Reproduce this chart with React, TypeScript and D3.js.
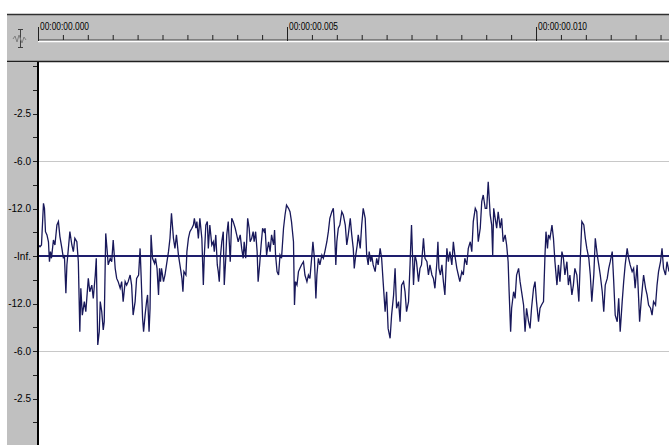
import React from "react";
import * as d3 from "d3";

// ---- data (time in ms, amplitude -1..1) ----
const waveA: [number, number][] = [
  [0, 0.06],[0.04,0.049],[0.07,0.058],[0.11,0.277],[0.13,0.251],[0.15,0.128],[0.18,0.111],[0.21,0.075],[0.23,-0.030],[0.25,0.023],[0.27,-0.012],[0.31,0.084],[0.34,0.058],[0.38,0.163],[0.41,0.181],[0.44,0.102],[0.48,0.040],[0.51,-0.012],[0.53,0.005],[0.56,-0.196],[0.58,-0.047],[0.61,0.040],[0.64,0.128],[0.68,0.058],[0.71,0.023],[0.74,0.093],[0.78,0.075],[0.81,-0.030],[0.84,-0.398],[0.86,-0.170],[0.89,-0.311],[0.93,-0.240],[0.96,-0.293],[0.98,-0.223],[1.01,-0.118],[1.04,-0.188],[1.08,-0.153],[1.11,-0.223],[1.15,-0.100],[1.17,-0.012],[1.19,-0.311],[1.20,-0.468],[1.23,-0.398],[1.25,-0.240],[1.28,-0.293],[1.31,-0.389],[1.33,-0.346],[1.36,0.119],[1.39,0.023],[1.41,-0.047],[1.45,-0.012],[1.48,-0.030],[1.51,0.084],[1.55,-0.065],[1.58,-0.118],[1.61,-0.135],[1.65,-0.170],[1.68,-0.135],[1.71,-0.240],[1.75,-0.135],
];
const waveB: [number, number][] = [
  [1.78,-0.153],[1.81,-0.135],[1.85,-0.100],[1.88,-0.153],[1.91,-0.311],[1.95,-0.240],[1.98,-0.118],[2.02,-0.100],[2.05,0.040],[2.07,-0.100],[2.10,-0.328],[2.12,-0.398],[2.15,-0.311],[2.18,-0.240],[2.20,-0.205],[2.23,-0.398],[2.25,-0.275],[2.27,0.111],[2.30,-0.012],[2.34,-0.039],[2.36,-0.012],[2.39,-0.065],[2.42,-0.205],[2.44,-0.065],[2.46,-0.135],[2.48,-0.065],[2.52,-0.135],[2.55,-0.100],[2.58,-0.047],[2.62,0.023],[2.65,0.093],[2.68,0.225],[2.72,0.093],[2.75,0.040],[2.78,0.111],[2.82,0.005],[2.85,-0.047],[2.89,-0.118],[2.91,-0.188],[2.93,-0.082],[2.97,-0.100],[2.99,0.023],[3.02,0.093],[3.05,0.128],[3.09,0.146],[3.12,0.163],[3.14,0.198],[3.17,0.146],[3.19,0.181],[3.22,0.093],[3.25,0.198],[3.29,0.093],[3.32,-0.153],[3.34,0.005],[3.37,0.163],[3.40,0.181],[3.42,0.040],[3.45,0.163],[3.49,0.058],[3.52,0.075],[3.54,0.023],[3.57,0.111],
];
const waveC: [number, number][] = [
  [3.60,-0.047],[3.62,-0.082],[3.64,-0.135],[3.66,-0.012],[3.69,0.075],[3.72,0.128],[3.74,-0.153],[3.77,-0.012],[3.79,0.111],[3.82,0.181],[3.84,0.075],[3.86,-0.030],[3.89,0.198],[3.92,0.181],[3.96,0.146],[3.99,0.111],[4.02,0.075],[4.06,0.111],[4.09,0.040],[4.12,-0.012],[4.14,0.075],[4.17,-0.012],[4.19,0.075],[4.21,0.198],[4.24,0.146],[4.26,0.075],[4.29,0.093],[4.32,0.128],[4.34,0.075],[4.37,0.128],[4.40,0.023],[4.42,-0.135],[4.45,-0.047],[4.48,0.058],[4.51,0.146],[4.54,0.128],[4.56,0.146],[4.59,0.005],[4.63,0.075],[4.66,0.023],[4.69,0.111],[4.73,0.058],[4.75,0.137],[4.77,0.005],[4.80,-0.082],[4.83,-0.100],[4.86,0.005],[4.89,-0.012],[4.93,0.146],[4.96,0.216],[4.99,0.268],[5.03,0.251],[5.06,0.233],[5.09,0.181],[5.13,0.075],[5.15,-0.258],[5.17,-0.135],[5.20,-0.153],[5.23,-0.082],[5.26,-0.065],[5.29,-0.047],[5.33,-0.030],[5.36,-0.100],
];
const waveD: [number, number][] = [
  [5.40,-0.135],[5.43,-0.100],[5.46,-0.118],[5.50,0.005],[5.52,0.075],[5.55,-0.012],[5.58,-0.223],[5.60,-0.100],[5.63,-0.012],[5.66,-0.047],[5.70,0.005],[5.73,-0.012],[5.76,0.023],[5.80,0.075],[5.83,0.128],[5.86,0.198],[5.90,0.233],[5.93,0.251],[5.95,0.163],[5.98,-0.047],[6.00,0.075],[6.03,0.146],[6.06,0.163],[6.10,0.233],[6.13,0.216],[6.17,0.163],[6.20,0.058],[6.23,0.111],[6.27,0.198],[6.30,0.111],[6.33,0.040],[6.35,-0.065],[6.38,0.005],[6.41,0.058],[6.43,0.111],[6.47,0.040],[6.50,0.163],[6.53,0.251],[6.57,0.198],[6.60,0.005],[6.63,-0.047],[6.65,0.023],[6.68,-0.030],[6.70,0.005],[6.73,-0.047],[6.77,-0.082],[6.80,-0.012],[6.83,-0.047],[6.87,0.040],[6.90,-0.012],[6.93,-0.135],[6.97,-0.293],[7.00,-0.188],[7.03,-0.381],[7.07,-0.433],[7.10,-0.311],[7.14,-0.205],[7.17,-0.065],
];
const waveE: [number, number][] = [
  [7.20,-0.275],[7.24,-0.240],[7.27,-0.346],[7.30,-0.153],[7.34,-0.135],[7.37,-0.188],[7.40,-0.293],[7.44,-0.240],[7.47,-0.047],[7.50,0.163],[7.54,-0.153],[7.57,0.005],[7.60,-0.030],[7.64,-0.135],[7.67,-0.065],[7.70,-0.047],[7.74,0.093],[7.77,-0.012],[7.81,-0.030],[7.84,-0.100],[7.87,-0.047],[7.91,-0.100],[7.94,-0.118],[7.97,-0.170],[8.01,-0.030],[8.03,0.075],[8.05,-0.065],[8.08,-0.100],[8.11,-0.047],[8.14,-0.135],[8.17,-0.205],[8.21,0.040],[8.24,-0.030],[8.27,0.023],[8.31,-0.047],[8.34,0.075],[8.37,0.005],[8.41,-0.065],[8.44,-0.100],[8.47,-0.135],[8.51,-0.082],[8.54,-0.100],[8.57,-0.012],[8.61,-0.047],[8.64,0.040],[8.68,0.075],[8.71,0.023],[8.74,0.181],[8.78,0.251],[8.81,0.233],[8.84,0.075],[8.88,0.146],[8.91,0.286],[8.94,0.321],[8.98,0.251],
];
const waveF: [number, number][] = [
  [9.01,0.251],[9.04,0.391],[9.08,0.216],[9.11,0.163],[9.13,0.005],[9.15,0.251],[9.18,0.198],[9.21,0.146],[9.24,0.233],[9.28,0.146],[9.31,0.198],[9.34,0.075],[9.38,0.111],[9.41,0.058],[9.44,-0.030],[9.46,-0.188],[9.49,-0.398],[9.51,-0.275],[9.55,-0.188],[9.58,-0.223],[9.61,-0.100],[9.65,-0.065],[9.68,-0.135],[9.71,-0.188],[9.75,-0.258],[9.78,-0.398],[9.81,-0.275],[9.85,-0.346],[9.88,-0.381],[9.91,-0.275],[9.95,-0.170],[9.98,-0.135],[10.01,-0.240],[10.05,-0.346],[10.08,-0.275],[10.11,-0.258],[10.15,-0.240],[10.18,0.005],[10.20,0.128],[10.23,0.040],[10.25,0.111],[10.28,0.093],[10.32,0.163],[10.35,0.093],[10.38,-0.030],[10.42,-0.153],[10.45,-0.047],[10.48,-0.135],[10.52,0.023],[10.55,-0.012],[10.58,-0.100],[10.62,-0.030],[10.65,-0.153],[10.68,-0.100],[10.72,-0.205],[10.75,-0.153],[10.78,-0.065],
];
const waveG: [number, number][] = [
  [10.82,-0.100],[10.86,-0.240],[10.89,-0.012],[10.92,0.181],[10.96,0.163],[10.99,0.093],[11.02,0.040],[11.06,-0.012],[11.09,-0.100],[11.12,-0.240],[11.16,-0.100],[11.19,0.093],[11.23,0.005],[11.26,-0.047],[11.29,-0.100],[11.33,-0.188],[11.36,-0.293],[11.39,-0.153],[11.43,-0.118],[11.46,-0.065],[11.49,-0.030],[11.53,0.023],[11.56,-0.135],[11.59,-0.311],[11.63,-0.346],[11.66,-0.223],[11.69,-0.398],[11.73,-0.240],[11.76,-0.135],[11.79,-0.047],[11.83,0.040],[11.86,-0.012],[11.89,-0.047],[11.93,-0.082],[11.96,-0.065],[11.99,-0.170],[12.03,-0.047],[12.06,-0.223],[12.08,-0.346],[12.11,-0.240],[12.14,-0.153],[12.16,-0.100],[12.20,-0.170],[12.23,-0.205],[12.26,-0.258],[12.30,-0.275],[12.33,-0.311],[12.36,-0.240],[12.40,-0.258],[12.43,-0.153],[12.46,-0.082],[12.50,-0.030],[12.53,0.040],[12.56,-0.065],[12.60,-0.100],[12.63,-0.030],[12.67,-0.082],
];

const timeTicksMajor = [0, 5, 10];
const timeLabels = ["00:00:00.000", "00:00:00.005", "00:00:00.010"];
const ampLabelValues = [0.75, 0.5, 0.25, 0, -0.25, -0.5, -0.75];
const ampLabels = ["-2.5", "-6.0", "-12.0", "-Inf.", "-12.0", "-6.0", "-2.5"];
const gridValues = [0.5, -0.5];

const W = 669;
const H = 445;
const FONT = "'Liberation Sans Narrow', 'Liberation Sans', Arial, sans-serif";
const GRAY = "#c0c0c0";
const NAVY = "#1e1e6e";

export default function App() {
  const samples = [...waveA, ...waveB, ...waveC, ...waveD, ...waveE, ...waveF, ...waveG];
  const plotLeft = 38;
  const plotTop = 62;
  const x = d3.scaleLinear().domain([0, 12.67]).range([plotLeft, W]);
  const y = d3.scaleLinear().domain([-1, 1]).range([446, 66]);
  const line = d3
    .line<[number, number]>()
    .x((d) => x(d[0]))
    .y((d) => y(d[1]));
  const minorTicks = d3.range(0, 12.7, 0.5);
  const ampTicks = d3.range(-1, 1.001, 0.125).filter((v) => y(v) > plotTop + 2 && y(v) < H);

  return (
    <div style={{ position: "absolute", left: 0, top: 0 }}>
      <svg width={W} height={H} style={{ display: "block", background: "#fff" }}>
        {/* ruler */}
        <rect x={7} y={14} width={W - 7} height={48} fill={GRAY} />
        <line x1={7} x2={W} y1={14.5} y2={14.5} stroke="#303030" strokeWidth={1.5} />
        <line x1={plotLeft} x2={W} y1={40} y2={40} stroke="#404040" strokeWidth={1} />
        <line x1={plotLeft} x2={W} y1={41.5} y2={41.5} stroke="#ffffff" strokeWidth={1.5} />
        <line x1={7} x2={W} y1={61.5} y2={61.5} stroke="#202020" strokeWidth={1.5} />
        {minorTicks.map((t) => (
          <line key={"m" + t} x1={x(t) + 0.5} x2={x(t) + 0.5} y1={35} y2={40} stroke="#202020" strokeWidth={1} />
        ))}
        {timeTicksMajor.map((t, i) => (
          <g key={"M" + t}>
            <line x1={x(t) + 0.5} x2={x(t) + 0.5} y1={27} y2={41} stroke="#202020" strokeWidth={1} />
            <text x={x(t) + 2} y={30} fontFamily={FONT} fontSize={10} fill="#000" textLength={49} lengthAdjust="spacingAndGlyphs">
              {timeLabels[i]}
            </text>
          </g>
        ))}
        {/* ruler icon */}
        <g stroke="#404040" strokeWidth={1} fill="none">
          <line x1={20.5} x2={20.5} y1={29} y2={48} />
          <line x1={18} x2={23} y1={29.5} y2={29.5} />
          <line x1={18} x2={23} y1={47.5} y2={47.5} />
          <path d="M13,39 L15,36 L17,42 L19,35 L22,43 L24,37 L26,40" stroke="#808080" />
        </g>

        {/* left gray column */}
        <rect x={7} y={plotTop} width={plotLeft - 7} height={H - plotTop} fill={GRAY} />
        {ampTicks.map((v) => (
          <line key={"t" + v} x1={33} x2={plotLeft} y1={Math.round(y(v)) + 0.5} y2={Math.round(y(v)) + 0.5} stroke="#202020" strokeWidth={1} />
        ))}
        {ampLabelValues.map((v, i) => (
          <text key={"l" + i} x={31} y={y(v) + 3.5} textAnchor="end" fontFamily={FONT} fontSize={10} fill="#000">
            {ampLabels[i]}
          </text>
        ))}

        {/* plot */}
        {gridValues.map((v) => (
          <line key={"g" + v} x1={plotLeft} x2={W} y1={Math.round(y(v)) + 0.5} y2={Math.round(y(v)) + 0.5} stroke="#c8c8c8" strokeWidth={1} />
        ))}
        <line x1={plotLeft} x2={W} y1={y(0)} y2={y(0)} stroke={NAVY} strokeWidth={2} />
        <path d={line(samples) || ""} fill="none" stroke="#18185a" strokeWidth={1.3} strokeLinejoin="miter" />
        <line x1={plotLeft} x2={plotLeft} y1={plotTop} y2={H} stroke="#000" strokeWidth={2} />
      </svg>
    </div>
  );
}
